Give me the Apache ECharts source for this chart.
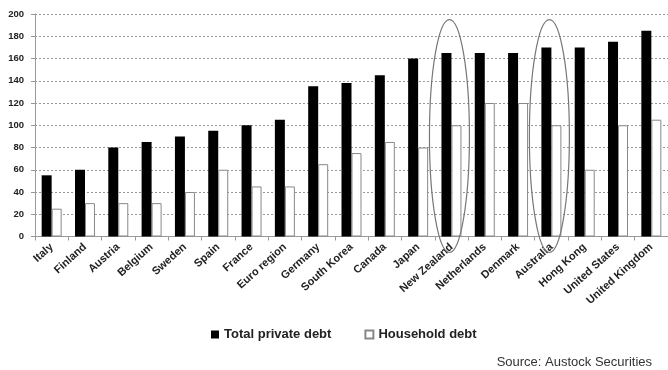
<!DOCTYPE html>
<html>
<head>
<meta charset="utf-8">
<script src="https://cdn.jsdelivr.net/npm/echarts@6/dist/echarts.min.js"></script>
<style>
html,body{margin:0;padding:0;background:#fff;}
#c{width:668px;height:370px;}
</style>
</head>
<body>
<div id="c"></div>
<script>
var categories = ['Italy','Finland','Austria','Belgium','Sweden','Spain','France','Euro region','Germany','South Korea','Canada','Japan','New Zealand','Netherlands','Denmark','Australia','Hong Kong','United States','United Kingdom'];
var totalPrivateDebt = [55,60,80,85,90,95,100,105,135,138,145,160,165,165,165,170,170,175,185];
var householdDebt = [25,30,30,30,40,60,45,45,65,75,85,80,100,120,120,100,60,100,105];
var yTicks = {min:0, max:200, interval:20};
var highlighted = ['New Zealand','Australia'];
var sourceText = 'Source: Austock Securities';

var FONT = '"Liberation Sans", Arial, sans-serif';
var chart = echarts.init(document.getElementById('c'), null, {renderer:'canvas'});
var option = {
  animation: false,
  backgroundColor: '#fff',
  textStyle: {fontFamily: FONT},
  grid: {left: 35, right: 0, top: 14, bottom: 133.5},
  legend: {
    data: ['Total private debt','Household debt'],
    left: 206, top: 323,
    itemWidth: 8, itemHeight: 8, itemGap: 33,
    icon: 'rect',
    textStyle: {fontFamily: FONT, fontWeight: 'bold', fontSize: 13, color: '#222'}
  },
  xAxis: {
    type: 'category',
    data: categories,
    boundaryGap: true,
    axisLine: {lineStyle: {color: '#999'}},
    axisTick: {show: true, interval: 0, length: 4, lineStyle: {color: '#999'}},
    axisLabel: {interval: 0, rotate: 42, margin: 9, fontFamily: FONT, fontWeight: 'bold', fontSize: 11, color: '#222'}
  },
  yAxis: {
    type: 'value',
    min: yTicks.min, max: yTicks.max, interval: yTicks.interval,
    axisLine: {show: true, lineStyle: {color: '#999'}},
    axisTick: {show: true, length: 4, lineStyle: {color: '#999'}},
    axisLabel: {margin: 11, fontFamily: FONT, fontWeight: 'bold', fontSize: 9.5, color: '#222'},
    splitLine: {show: true, lineStyle: {color: '#999', type: [2,2], width: 1}}
  },
  series: [
    {name: 'Total private debt', type: 'bar', data: totalPrivateDebt, barGap: '0%', barCategoryGap: '40%',
     itemStyle: {color: '#000'}},
    {name: 'Household debt', type: 'bar', data: householdDebt, barGap: '0%', barCategoryGap: '40%',
     itemStyle: {color: '#fff', borderColor: '#888', borderWidth: 1}}
  ]
};
chart.setOption(option);

var graphics = [];
highlighted.forEach(function(name){
  var top = chart.convertToPixel({xAxisIndex:0, yAxisIndex:0}, [name, 195]);
  var base = chart.convertToPixel({xAxisIndex:0, yAxisIndex:0}, [name, 0]);
  var bottomY = base[1] + 16;
  var cy = (top[1] + bottomY) / 2;
  var ry = (bottomY - top[1]) / 2;
  graphics.push({
    type: 'ellipse', z: 100,
    shape: {cx: top[0] - 2, cy: cy, rx: 20, ry: ry},
    style: {fill: 'none', stroke: '#777', lineWidth: 1.2}
  });
});
graphics.push({
  type: 'text', right: 16, top: 356, z: 100,
  style: {text: sourceText, font: '13px ' + FONT, fill: '#333'}
});
chart.setOption({graphic: graphics});
</script>
</body>
</html>
